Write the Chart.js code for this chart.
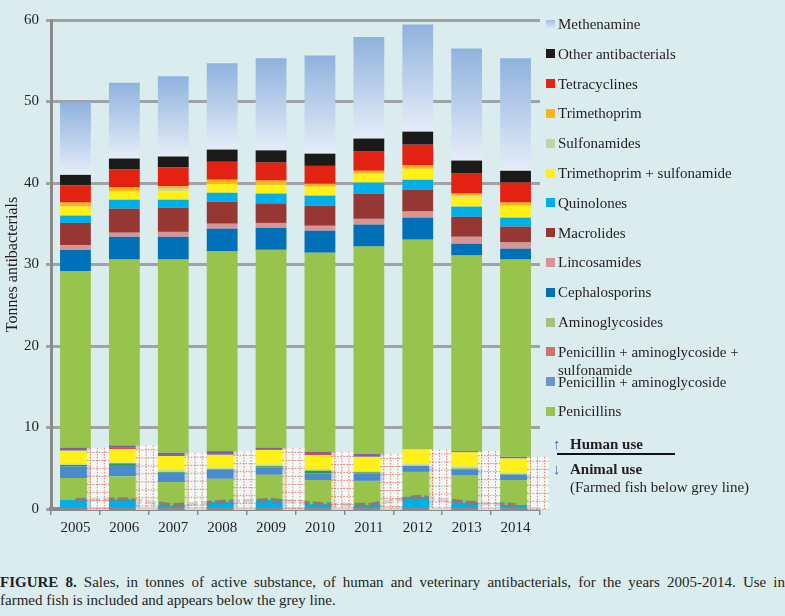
<!DOCTYPE html>
<html><head><meta charset="utf-8">
<script src="https://cdn.jsdelivr.net/npm/chart.js@4.4.1/dist/chart.umd.min.js"></script>
<style>
html,body{margin:0;padding:0;background:#dbecee;}
#wrap{position:relative;width:785px;height:616px;overflow:hidden;font-family:"Liberation Serif","Times New Roman",serif;color:#231f20;}
#c{position:absolute;left:0;top:0;}
.li{position:absolute;left:546px;width:210px;font-size:15px;line-height:18px;}
.sw{position:absolute;left:0;top:4.5px;width:9px;height:9px;}
.lt{margin-left:12px;display:block;}
.ua{position:absolute;font-size:15px;line-height:18px;}
#cap{position:absolute;left:0;top:573px;width:785px;font-size:15px;line-height:18px;}
#cap .l1{white-space:nowrap;}
</style></head>
<body><div id="wrap">
<canvas id="c" width="785" height="545"></canvas>
<div id="legend"></div>
<div class="ua" style="left:553px;top:435px;color:#3b6ea8;">↑</div>
<div class="ua" style="left:570px;top:435px;font-weight:bold;">Human use</div>
<div style="position:absolute;left:557px;top:453px;width:118px;height:2px;background:#111;"></div>
<div class="ua" style="left:553px;top:460px;color:#3b6ea8;">↓</div>
<div class="ua" style="left:570px;top:460px;font-weight:bold;">Animal use</div>
<div class="ua" style="left:570px;top:478px;">(Farmed fish below grey line)</div>
<div id="cap"><div class="l1"><span id="l1s"><b>FIGURE 8.</b> Sales, in tonnes of active substance, of human and veterinary antibacterials, for the years 2005-2014. Use in</span></div><div>farmed fish is included and appears below the grey line.</div></div>
</div>
<script>
const years = ['2005','2006','2007','2008','2009','2010','2011','2012','2013','2014'];
const yTicks = [0,10,20,30,40,50,60];

// Animal use (bottom of each bar)
const fishQuinolones      = [1.1, 1.2, 0.45, 0.9, 1.1, 0.6, 0.5, 1.5, 0.8, 0.5];
const animalPenicillins   = [2.7, 2.8, 2.85, 2.8, 3.1, 2.95, 2.95, 3.05, 3.3, 3.05];
const animalPenAmino      = [1.4, 1.4, 1.15, 1.15, 0.9, 0.8, 0.9, 0.75, 0.75, 0.65];
const animalAmino         = [0.2, 0.2, 0.1, 0.05, 0.15, 0.35, 0.15, 0, 0.1, 0.05];
const animalSulfa         = [0.2, 0.1, 0.25, 0.2, 0.2, 0.2, 0.15, 0.2, 0.25, 0.2];
const animalTrimSulfa     = [1.55, 1.65, 1.7, 1.55, 1.8, 1.7, 1.75, 1.8, 1.75, 1.75];
const animalPenAminoSulfa = [0, 0.15, 0, 0, 0, 0.15, 0, 0, 0, 0];
const animalOther         = [0.35, 0.3, 0.4, 0.45, 0.25, 0.25, 0.35, 0, 0.15, 0.2];

// Human use (stacked above)
const penicillins      = [21.7, 22.8, 23.7, 24.5, 24.3, 24.45, 25.45, 25.75, 24.0, 24.2];
const cephalosporins   = [2.6, 2.8, 2.8, 2.8, 2.7, 2.7, 2.7, 2.7, 1.45, 1.35];
const lincosamides     = [0.55, 0.5, 0.6, 0.6, 0.6, 0.6, 0.7, 0.75, 0.85, 0.75];
const macrolides       = [2.75, 2.95, 2.95, 2.7, 2.4, 2.45, 3.1, 2.7, 2.45, 1.95];
const quinolones       = [0.9, 1.1, 1.0, 1.1, 1.2, 1.25, 1.35, 1.2, 1.25, 1.1];
const trimSulfa        = [1.1, 1.0, 1.1, 1.1, 1.1, 1.1, 1.1, 1.35, 1.2, 1.45];
const sulfonamides     = [0, 0, 0.25, 0, 0, 0, 0, 0, 0.15, 0];
const trimethoprim     = [0.5, 0.5, 0.3, 0.5, 0.5, 0.35, 0.35, 0.4, 0.25, 0.4];
const tetracyclines    = [2.1, 2.2, 2.3, 2.2, 2.2, 2.2, 2.35, 2.55, 2.45, 2.45];
const otherAntibact    = [1.3, 1.35, 1.35, 1.5, 1.5, 1.5, 1.6, 1.6, 1.6, 1.45];
const methenamine      = [8.9, 9.3, 9.85, 10.6, 11.3, 12.05, 12.45, 13.15, 13.75, 13.8];

const legendLabels = ['Methenamine','Other antibacterials','Tetracyclines','Trimethoprim','Sulfonamides','Trimethoprim + sulfonamide','Quinolones','Macrolides','Lincosamides','Cephalosporins','Aminoglycosides','Penicillin + aminoglycoside + sulfonamide','Penicillin + aminoglycoside','Penicillins'];
const legendColors = ['linear-gradient(#9fbde3,#e4ebf7)','#1a1a18','#e32213','#fbb614','#c4d3a6','#fff01a','#00aee8','#963734','#d99594','#0070b8','#a8bf80','#d07070','#6b96c9','#98c34c'];

const animalSets = [fishQuinolones, animalPenicillins, animalPenAmino, animalAmino, animalSulfa, animalTrimSulfa, animalPenAminoSulfa, animalOther];
const humanSets = [penicillins, cephalosporins, lincosamides, macrolides, quinolones, trimSulfa, sulfonamides, trimethoprim, tetracyclines, otherAntibact, methenamine];
const allSets = animalSets.concat(humanSets);
const sumAt = (sets, i) => sets.reduce((s, a) => s + a[i], 0);

function methColor(ctx) {
  const chart = ctx.chart;
  if (!chart.chartArea || ctx.type !== 'data') return '#b8cbe8';
  const i = ctx.dataIndex, y = chart.scales.y;
  const top = sumAt(allSets, i), bottom = top - methenamine[i];
  const g = chart.ctx.createLinearGradient(0, y.getPixelForValue(top), 0, y.getPixelForValue(bottom));
  g.addColorStop(0, '#8fb2de');
  g.addColorStop(1, '#e6edf8');
  return g;
}

// legend (HTML)
const lg = document.getElementById('legend');
legendLabels.forEach((name, i) => {
  const d = document.createElement('div');
  d.className = 'li';
  d.style.top = (15 + 29.8 * i) + 'px';
  d.innerHTML = '<span class="sw" style="background:' + legendColors[i] + '"></span><span class="lt"></span>';
  d.querySelector('.lt').textContent = name;
  lg.appendChild(d);
});

// justify caption line 1 across the full width
(function () {
  const s = document.getElementById('l1s');
  const spaces = (s.textContent.match(/ /g) || []).length;
  const w = s.getBoundingClientRect().width;
  s.style.wordSpacing = ((785 - w) / spaces) + 'px';
})();

const bar = (label, data, color) => ({type:'bar', label, data, backgroundColor: color, borderWidth: 0, order: 1, stack: 'all'});

const hatchPlugin = {
  id: 'hatch',
  afterDatasetsDraw(chart) {
    const c = chart.ctx, y = chart.scales.y;
    const meta = chart.getDatasetMeta(1);
    const y0 = y.getPixelForValue(0);
    c.save();
    meta.data.forEach((el, i) => {
      const right = el.x + el.width / 2;
      const x1 = right - 4, x2 = right + 18;
      const yt = y.getPixelForValue(sumAt(animalSets, i));
      c.fillStyle = 'rgba(255,255,255,0.66)';
      c.fillRect(x1, yt, x2 - x1, y0 + 1 - yt);
      c.lineWidth = 1;
      c.setLineDash([1.5, 1.5]);
      c.strokeStyle = 'rgba(225,70,50,0.7)';
      for (let x = x1 + 3; x < x2; x += 7) { c.beginPath(); c.moveTo(x + 0.5, yt); c.lineTo(x + 0.5, y0); c.stroke(); }
      for (let yy = yt + 4; yy < y0; yy += 8) { c.beginPath(); c.moveTo(x1, yy + 0.5); c.lineTo(x2, yy + 0.5); c.stroke(); }
      c.setLineDash([]);
    });
    c.restore();
  }
};

new Chart(document.getElementById('c'), {
  data: {
    labels: years,
    datasets: [
      {type:'line', label:'Farmed fish', data: fishQuinolones, borderColor:'rgba(125,125,125,0.95)', borderWidth:4, borderDash:[11,3], pointRadius:0, order:0, stack:'fishline', fill:false, tension:0},
      bar('Quinolones (farmed fish)', fishQuinolones, '#00aee8'),
      bar('Penicillins (animal)', animalPenicillins, '#98c34c'),
      bar('Penicillin + aminoglycoside (animal)', animalPenAmino, '#4a8bcb'),
      bar('Aminoglycosides (animal)', animalAmino, '#2e9a4c'),
      bar('Sulfonamides (animal)', animalSulfa, '#c5dc9c'),
      bar('Trimethoprim + sulfonamide (animal)', animalTrimSulfa, '#fff01a'),
      bar('Penicillin + aminoglycoside + sulfonamide (animal)', animalPenAminoSulfa, '#d0504a'),
      bar('Other (animal)', animalOther, '#8064a2'),
      bar('Penicillins', penicillins, '#98c34c'),
      bar('Cephalosporins', cephalosporins, '#0070b8'),
      bar('Lincosamides', lincosamides, '#d99594'),
      bar('Macrolides', macrolides, '#963734'),
      bar('Quinolones', quinolones, '#00aee8'),
      bar('Trimethoprim + sulfonamide', trimSulfa, '#fff01a'),
      bar('Sulfonamides', sulfonamides, '#c4d79b'),
      bar('Trimethoprim', trimethoprim, '#fbb614'),
      bar('Tetracyclines', tetracyclines, '#e32213'),
      bar('Other antibacterials', otherAntibact, '#1a1a18'),
      bar('Methenamine', methenamine, methColor)
    ]
  },
  options: {
    responsive: false,
    animation: false,
    layout: {padding: {top: 20, right: 245, left: 0, bottom: 0}},
    datasets: {bar: {categoryPercentage: 1, barPercentage: 0.63}},
    plugins: {legend: {display: false}, tooltip: {enabled: false}},
    scales: {
      x: {
        stacked: true,
        offset: true,
        grid: {display: true, offset: true, drawOnChartArea: false, drawTicks: true, tickLength: 6, color: '#8a8a8a', lineWidth: 1.5},
        border: {display: true, color: '#8a8a8a', width: 4},
        ticks: {color: '#231f20', font: {family: 'Liberation Serif', size: 15}, padding: 4},
        afterFit(s) { s.height = 36; }
      },
      y: {
        stacked: true,
        min: 0, max: 60,
        afterBuildTicks(s) { s.ticks = yTicks.map(v => ({value: v})); },
        grid: {color: '#9fa3a3', lineWidth: 3, tickLength: 5, drawTicks: true},
        border: {display: true, color: '#8a8a8a', width: 3},
        ticks: {color: '#231f20', font: {family: 'Liberation Serif', size: 15}, padding: 7},
        title: {display: true, text: 'Tonnes antibacterials', color: '#231f20', font: {family: 'Liberation Serif', size: 16}, padding: {top: 3, bottom: 0}},
        afterFit(s) { s.width = 51; }
      }
    }
  },
  plugins: [hatchPlugin]
});
</script>
</body></html>
